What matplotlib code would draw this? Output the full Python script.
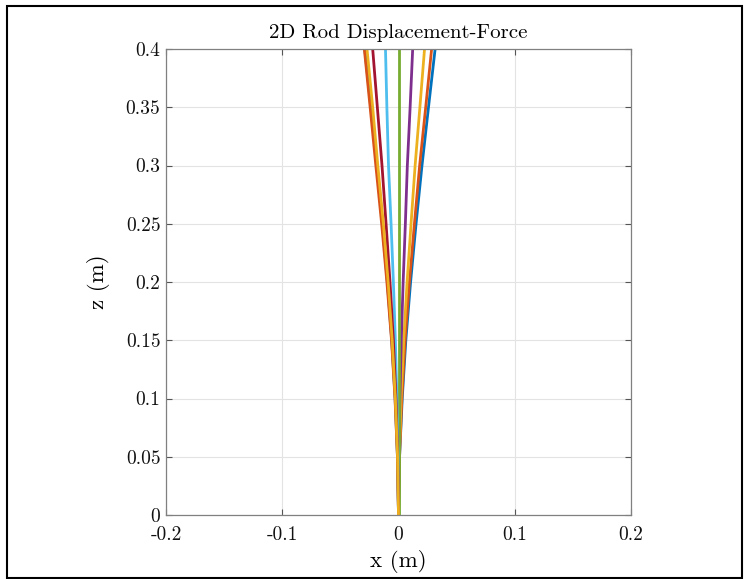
import matplotlib
matplotlib.use("Agg")
import matplotlib.pyplot as plt
from matplotlib.patches import Rectangle

plt.rcParams['font.family'] = 'serif'
plt.rcParams['font.serif'] = ['cmr10', 'DejaVu Serif']
plt.rcParams['axes.unicode_minus'] = False

# z positions along the rod (m)
z = [0, 0.05, 0.10, 0.15, 0.20, 0.25, 0.30, 0.35, 0.40]

# x displacement of each rod curve (m)
x1 = [0, 0.0009, 0.0032, 0.0063, 0.0104, 0.0151, 0.0202, 0.0258, 0.0315]
x2 = [0, 0.0009, 0.0029, 0.0057, 0.0094, 0.0137, 0.0182, 0.0234, 0.0285]
x3 = [0, 0.0007, 0.0022, 0.0045, 0.0074, 0.0108, 0.0143, 0.0184, 0.0224]
x4 = [0, 0.0004, 0.0012, 0.0024, 0.0040, 0.0059, 0.0076, 0.0100, 0.0122]
x5 = [0, 0, 0, 0, 0, 0, 0, 0, 0]
x6 = [0, -0.0004, -0.0014, -0.0027, -0.0044, -0.0064, -0.0086, -0.0100, -0.0112]
x7 = [0, -0.0007, -0.0022, -0.0044, -0.0073, -0.0107, -0.0142, -0.0182, -0.0222]
x8 = [0, -0.0009, -0.0029, -0.0058, -0.0096, -0.0139, -0.0186, -0.0238, -0.0290]
x9 = [0, -0.0009, -0.0030, -0.0060, -0.0100, -0.0145, -0.0195, -0.0244, -0.0294]
x10 = [0, -0.0008, -0.0027, -0.0054, -0.0089, -0.0130, -0.0178, -0.0222, -0.0271]
curves = [x1, x2, x3, x4, x5, x6, x7, x8, x9, x10]

colors = ['#0072BD', '#D95319', '#EDB120', '#7E2F8E', '#77AC30',
          '#4DBEEE', '#A2142F', '#0072BD', '#D95319', '#EDB120']

xticks = [-0.2, -0.1, 0, 0.1, 0.2]
xticklabels = ['-0.2', '-0.1', '0', '0.1', '0.2']
yticks = [0, 0.05, 0.1, 0.15, 0.2, 0.25, 0.3, 0.35, 0.4]
yticklabels = ['0', '0.05', '0.1', '0.15', '0.2', '0.25', '0.3', '0.35', '0.4']

W, H = 748, 579
fig = plt.figure(figsize=(W / 100, H / 100), dpi=100)
ax = fig.add_axes([166 / W, (H - 515) / H, 465 / W, 466 / H])

for xs, c in zip(curves, colors):
    ax.plot(xs, z, color=c, linewidth=2.0)

ax.set_xlim(-0.2, 0.2)
ax.set_ylim(0, 0.4)
ax.set_xticks(xticks)
ax.set_xticklabels(xticklabels)
ax.set_yticks(yticks)
ax.set_yticklabels(yticklabels)
ax.grid(True, color='#e3e3e3', linewidth=0.8)
ax.set_axisbelow(True)
for s in ax.spines.values():
    s.set_color('#808080')
    s.set_linewidth(0.9)
ax.tick_params(direction='in', top=True, right=True, length=4, color='#555555',
               labelsize=14, labelcolor='#111111')
ax.tick_params(axis='x', pad=8)
ax.tick_params(axis='y', pad=4)
ax.set_title('2D Rod Displacement-Force', fontsize=15, pad=8)
ax.set_xlabel('x (m)', fontsize=16.5, labelpad=4)
ax.set_ylabel('z (m)', fontsize=16.5, labelpad=11)

fig.patches.append(Rectangle((7 / W, 1 - 578 / H), 735 / W, 572 / H,
                             transform=fig.transFigure, fill=False,
                             edgecolor='black', linewidth=1.5))

fig.savefig('out.png', dpi=100)
